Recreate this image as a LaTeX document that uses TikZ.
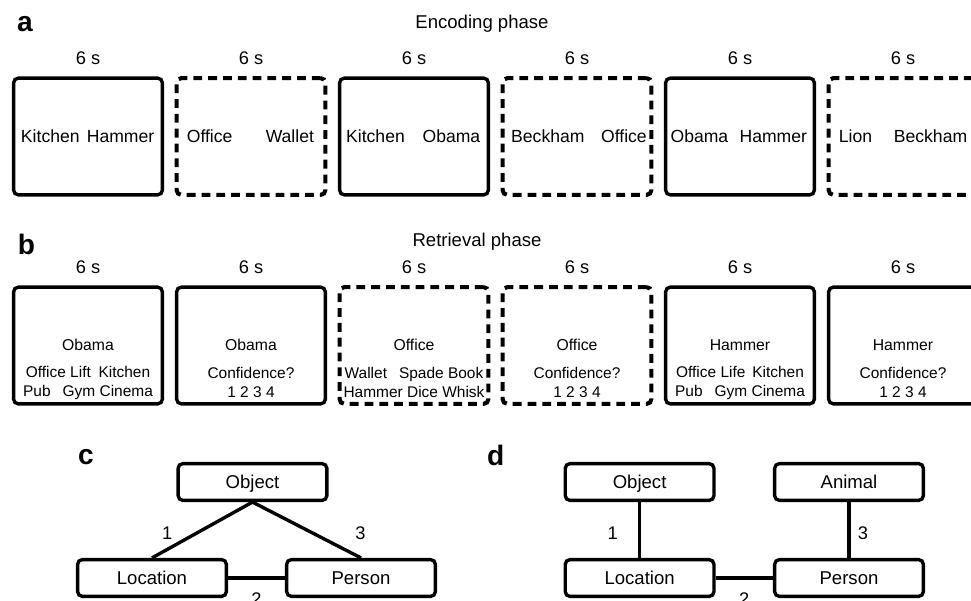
\documentclass[tikz,border=0pt]{standalone}
\usepackage{fontspec}
\setmainfont{Liberation Sans}
\usepackage{tikz}
\usetikzlibrary{positioning}
\usetikzlibrary{calc}
\tikzset{>=latex}
\tikzstyle{solidbox}=[draw=black,line width=2.4pt,shape=rectangle,rounded corners=0.12cm,minimum width=3.72cm,minimum height=2.92cm,inner sep=0pt]
\tikzstyle{dashbox}=[solidbox,line width=2.9pt,dash pattern=on 0.22cm off 0.15cm]
\tikzstyle{relbox}=[draw=black,line width=2.4pt,shape=rectangle,rounded corners=0.12cm,minimum width=3.72cm,minimum height=0.92cm,text height=1.0em,text depth=0.1em,font=\fontsize{13.2}{15}\selectfont]
\tikzstyle{panellab}=[font=\fontsize{20}{24}\selectfont\bfseries]
\tikzstyle{phaselab}=[font=\fontsize{13.2}{15}\selectfont]
\tikzstyle{timelab}=[font=\fontsize{13}{15}\selectfont]
\tikzstyle{wordl}=[anchor=base west,inner sep=0pt,font=\fontsize{12.5}{15}\selectfont]
\tikzstyle{wordr}=[anchor=base east,inner sep=0pt,font=\fontsize{12.5}{15}\selectfont]
\tikzstyle{probe}=[anchor=base,inner sep=0pt,font=\fontsize{11.2}{13.5}\selectfont]
\tikzstyle{choices}=[align=center,inner sep=0pt,font=\fontsize{11}{13.5}\selectfont]
\tikzstyle{tlink}=[line width=2.4pt,color=black]
\tikzstyle{numlab}=[font=\fontsize{13}{15}\selectfont]

\begin{document}
\begin{tikzpicture}

	\useasboundingbox (0, 0) rectangle (24.275, 15);

	% Encoding
	\begin{scope}[xshift = 0cm, yshift = 11.5875cm]
	\node[panellab] (alabel) at (0.625, 2.8225) {a};
	\node[phaselab] (aphase) at (12.05, 2.82) {Encoding phase};
	\node[solidbox] (a1) at (2.2, 0) {};
	\node[dashbox] (a2) at ($(a1) + (4.075, 0)$) {};
	\node[solidbox] (a3) at ($(a2) + (4.075, 0)$) {};
	\node[dashbox] (a4) at ($(a3) + (4.075, 0)$) {};
	\node[solidbox] (a5) at ($(a4) + (4.075, 0)$) {};
	\node[dashbox] (a6) at ($(a5) + (4.075, 0)$) {};
	\node[timelab] (ta1) at ($(a1.north) + (0, 0.45)$) {6 s};
	\node[timelab] (ta2) at ($(a2.north) + (0, 0.45)$) {6 s};
	\node[timelab] (ta3) at ($(a3.north) + (0, 0.45)$) {6 s};
	\node[timelab] (ta4) at ($(a4.north) + (0, 0.45)$) {6 s};
	\node[timelab] (ta5) at ($(a5.north) + (0, 0.45)$) {6 s};
	\node[timelab] (ta6) at ($(a6.north) + (0, 0.45)$) {6 s};
	\node[wordl] (a1l) at ($(a1.west) + (0.22, -0.16)$) {Kitchen};
	\node[wordr] (a1r) at ($(a1.east) + (-0.24, -0.16)$) {Hammer};
	\node[wordl] (a2l) at ($(a2.west) + (0.3, -0.16)$) {Office};
	\node[wordr] (a2r) at ($(a2.east) + (-0.33, -0.16)$) {Wallet};
	\node[wordl] (a3l) at ($(a3.west) + (0.2, -0.16)$) {Kitchen};
	\node[wordr] (a3r) at ($(a3.east) + (-0.24, -0.16)$) {Obama};
	\node[wordl] (a4l) at ($(a4.west) + (0.26, -0.16)$) {Beckham};
	\node[wordr] (a4r) at ($(a4.east) + (-0.16, -0.16)$) {Office};
	\node[wordl] (a5l) at ($(a5.west) + (0.16, -0.16)$) {Obama};
	\node[wordr] (a5r) at ($(a5.east) + (-0.22, -0.16)$) {Hammer};
	\node[wordl] (a6l) at ($(a6.west) + (0.3, -0.16)$) {Lion};
	\node[wordr] (a6r) at ($(a6.east) + (-0.3, -0.16)$) {Beckham};
	\end{scope}

	% Retrieval
	\begin{scope}[xshift = 0cm, yshift = 6.3625cm]
	\node[panellab] (blabel) at (0.66, 2.5375) {b};
	\node[phaselab] (bphase) at (11.925, 2.5875) {Retrieval phase};
	\node[solidbox] (b1) at (2.2, 0) {};
	\node[solidbox] (b2) at ($(b1) + (4.075, 0)$) {};
	\node[dashbox] (b3) at ($(b2) + (4.075, 0)$) {};
	\node[dashbox] (b4) at ($(b3) + (4.075, 0)$) {};
	\node[solidbox] (b5) at ($(b4) + (4.075, 0)$) {};
	\node[solidbox] (b6) at ($(b5) + (4.075, 0)$) {};
	\node[timelab] (tb1) at ($(b1.north) + (0, 0.45)$) {6 s};
	\node[timelab] (tb2) at ($(b2.north) + (0, 0.45)$) {6 s};
	\node[timelab] (tb3) at ($(b3.north) + (0, 0.45)$) {6 s};
	\node[timelab] (tb4) at ($(b4.north) + (0, 0.45)$) {6 s};
	\node[timelab] (tb5) at ($(b5.north) + (0, 0.45)$) {6 s};
	\node[timelab] (tb6) at ($(b6.north) + (0, 0.45)$) {6 s};
	\node[probe] (b1p) at ($(b1) + (0, -0.125)$) {Obama};
	\node[probe] (b2p) at ($(b2) + (0, -0.125)$) {Obama};
	\node[probe] (b3p) at ($(b3) + (0, -0.125)$) {Office};
	\node[probe] (b4p) at ($(b4) + (0, -0.125)$) {Office};
	\node[probe] (b5p) at ($(b5) + (0, -0.125)$) {Hammer};
	\node[probe] (b6p) at ($(b6) + (0, -0.125)$) {Hammer};
	\node[choices] (b1c) at ($(b1) + (0, -0.93)$) {Office Lift\enspace Kitchen\\Pub\enspace\ Gym Cinema};
	\node[choices] (b2c) at ($(b2) + (0, -0.93)$) {Confidence?\\1 2 3 4};
	\node[choices] (b3c) at ($(b3) + (0, -0.93)$) {Wallet\enspace\ Spade Book\\Hammer Dice Whisk};
	\node[choices] (b4c) at ($(b4) + (0, -0.93)$) {Confidence?\\1 2 3 4};
	\node[choices] (b5c) at ($(b5) + (0, -0.93)$) {Office Life\,\ Kitchen\\Pub\enspace\ Gym Cinema};
	\node[choices] (b6c) at ($(b6) + (0, -0.93)$) {Confidence?\\1 2 3 4};
	\end{scope}

	% Triangle
	\begin{scope}[xshift = 0cm, yshift = 0cm]
	\node[panellab] (clabel) at (2.15, 3.575) {c};
	\node[relbox] (cobj) at (6.3125, 2.95) {Object};
	\node[relbox] (cloc) at (3.8, 0.55) {Location};
	\node[relbox] (cper) at (9.025, 0.55) {Person};
	\draw[tlink] (cobj.south) -- node[numlab, xshift = -0.875cm, yshift = -0.075cm] {1} (cloc.north);
	\draw[tlink] (cobj.south) -- node[numlab, xshift = 1.34cm, yshift = -0.075cm] {3} (cper.north);
	\draw[tlink] (cloc) -- node[numlab, below = 0.2cm] {2} (cper);
	\end{scope}

	% Chain
	\begin{scope}[xshift = 0cm, yshift = 0cm]
	\node[panellab] (dlabel) at (12.39, 3.625) {d};
	\node[relbox] (dobj) at (15.99, 2.95) {Object};
	\node[relbox] (dani) at (21.225, 2.95) {Animal};
	\node[relbox] (dloc) at (15.99, 0.55) {Location};
	\node[relbox] (dper) at (21.225, 0.55) {Person};
	\draw[tlink] (dobj) -- node[numlab, xshift = -0.675cm, yshift = -0.075cm] {1} (dloc);
	\draw[tlink] (dani) -- node[numlab, xshift = 0.35cm, yshift = -0.075cm] {3} (dper);
	\draw[tlink] (dloc) -- node[numlab, below = 0.2cm] {2} (dper);
	\end{scope}

\end{tikzpicture}
\end{document}
